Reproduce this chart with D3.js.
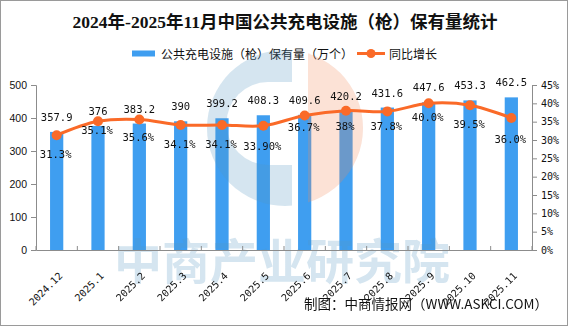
<!DOCTYPE html>
<html>
<head>
<meta charset="utf-8">
<script src="https://cdn.jsdelivr.net/npm/d3@7"></script>
<style>
  html, body { margin: 0; padding: 0; background: #fff; }
  svg { display: block; }
</style>
</head>
<body>
<svg id="chart" width="569" height="327"></svg>
<script>
// ---- data ----
const categories = ["2024.12","2025.1","2025.2","2025.3","2025.4","2025.5","2025.6","2025.7","2025.8","2025.9","2025.10","2025.11"];
const stockValues = [357.9, 376, 383.2, 390, 399.2, 408.3, 409.6, 420.2, 431.6, 447.6, 453.3, 462.5];
const stockLabels = ["357.9","376","383.2","390","399.2","408.3","409.6","420.2","431.6","447.6","453.3","462.5"];
const growthValues = [31.3, 35.1, 35.6, 34.1, 34.1, 33.9, 36.7, 38.0, 37.8, 40.0, 39.5, 36.0];
const growthLabels = ["31.3%","35.1%","35.6%","34.1%","34.1%","33.90%","36.7%","38%","37.8%","40.0%","39.5%","36.0%"];
const leftTicks = [0, 100, 200, 300, 400, 500];
const rightTicks = [0, 5, 10, 15, 20, 25, 30, 35, 40, 45];

// ---- layout (not data) ----
const pctLabelGap = [19, 9, 18, 19, 19, 20, 12, 15, 15, 14, 19, 21];
const W = 569, H = 327;
const plot = { left: 36, right: 532, top: 85, bottom: 250 };
const barColor = "#3f9ef0";
const lineColor = "#fa6a28";
const axisColor = "#8c8c8c";
const monoFont = "'DejaVu Sans Mono', 'Liberation Mono', monospace";
const cjkFont = "'Noto Sans CJK SC', 'Noto Sans', sans-serif";

const svg = d3.select("#chart");

// border
svg.append("rect").attr("x", 0.5).attr("y", 0.5).attr("width", W - 2).attr("height", H - 2)
  .attr("fill", "#fff").attr("stroke", "#9a9a9a").attr("stroke-width", 1);

// scales
const x = d3.scaleBand().domain(categories).range([plot.left, plot.right])
  .paddingInner(0.68).paddingOuter(0.34);
const y = d3.scaleLinear().domain([0, 500]).range([plot.bottom, plot.top]);
const y2 = d3.scaleLinear().domain([0, 45]).range([plot.bottom, plot.top]);
const cx = d => x(d) + x.bandwidth() / 2;

// title
svg.append("text").attr("x", 285).attr("y", 22).attr("text-anchor", "middle")
  .attr("dominant-baseline", "central")
  .style("font-family", "'Liberation Serif', 'Noto Sans CJK SC', serif")
  .style("font-weight", "bold").style("font-size", "17.5px").attr("fill", "#111")
  .text("2024年-2025年11月中国公共充电设施（枪）保有量统计");

// legend
const lg = svg.append("g");
lg.append("rect").attr("x", 132).attr("y", 50.5).attr("width", 23).attr("height", 6).attr("fill", barColor);
lg.append("text").attr("x", 161).attr("y", 53.5).attr("dominant-baseline", "central")
  .style("font-family", cjkFont).style("font-size", "12px").attr("fill", "#111")
  .text("公共充电设施（枪）保有量（万个）");
lg.append("line").attr("x1", 357).attr("x2", 385).attr("y1", 53.5).attr("y2", 53.5)
  .attr("stroke", lineColor).attr("stroke-width", 3);
lg.append("circle").attr("cx", 371).attr("cy", 53.5).attr("r", 4.5).attr("fill", lineColor);
lg.append("text").attr("x", 389).attr("y", 53.5).attr("dominant-baseline", "central")
  .style("font-family", cjkFont).style("font-size", "12px").attr("fill", "#111")
  .text("同比增长");

// bars
svg.append("g").selectAll("rect").data(categories).join("rect")
  .attr("x", d => x(d)).attr("width", x.bandwidth())
  .attr("y", (d, i) => y(stockValues[i]))
  .attr("height", (d, i) => y(0) - y(stockValues[i]))
  .attr("fill", barColor);

// watermark (over bars, under line)
const wm = svg.append("g").attr("opacity", 0.25);
const lcx = 285, lcy = 128, lr = 78;
const defs = svg.append("defs");
defs.append("clipPath").attr("id", "logoClip").append("circle")
  .attr("cx", lcx).attr("cy", lcy).attr("r", lr);
const mask = defs.append("mask").attr("id", "cMask");
mask.append("rect").attr("x", 0).attr("y", 0).attr("width", W).attr("height", H).attr("fill", "#fff");
mask.append("circle").attr("cx", 268).attr("cy", 123.5).attr("r", 41.5).attr("fill", "#000");
mask.append("rect").attr("x", 268).attr("y", 82).attr("width", 40).attr("height", 83).attr("fill", "#000");
const logo = wm.append("g").attr("clip-path", "url(#logoClip)");
logo.append("rect").attr("x", lcx - lr).attr("y", lcy - lr).attr("width", 292 - (lcx - lr)).attr("height", 2 * lr)
  .attr("fill", "#5697c1").attr("mask", "url(#cMask)");
logo.append("rect").attr("x", 308).attr("y", lcy - lr).attr("width", lr).attr("height", 2 * lr)
  .attr("fill", "#f0885a");
wm.append("text").attr("x", 282).attr("y", 258).attr("text-anchor", "middle")
  .attr("dominant-baseline", "central")
  .style("font-family", cjkFont).style("font-weight", "bold").style("font-size", "48px")
  .attr("fill", "#5697c1").text("中商产业研究院");

// left axis
const yAxis = d3.axisLeft(y).tickValues(leftTicks).tickSize(5).tickPadding(4);
const gy = svg.append("g").attr("transform", `translate(${plot.left},0)`).call(yAxis);
gy.selectAll("path,line").attr("stroke", axisColor);
gy.selectAll("text").style("font-family", "'Liberation Sans', Arial, sans-serif")
  .style("font-size", "10.5px").attr("fill", "#111");

// right axis
const y2Axis = d3.axisRight(y2).tickValues(rightTicks).tickSize(5).tickPadding(4)
  .tickFormat(d => d + "%");
const gy2 = svg.append("g").attr("transform", `translate(${plot.right},0)`).call(y2Axis);
gy2.selectAll("path,line").attr("stroke", axisColor);
gy2.selectAll("text").style("font-family", monoFont).style("font-size", "10px").attr("fill", "#111");

// bottom axis
const xAxis = d3.axisBottom(x).tickSize(0).tickPadding(0);
const gx = svg.append("g").attr("transform", `translate(0,${plot.bottom})`).call(xAxis);
gx.select("path.domain").attr("stroke", axisColor);
gx.selectAll(".tick text")
  .attr("text-anchor", "end")
  .attr("transform", "translate(4,24) rotate(-45)")
  .attr("dy", "0.35em").attr("y", 0)
  .style("font-family", monoFont).style("font-size", "10px").attr("fill", "#111");
// boundary ticks between categories (inside)
const bounds = d3.range(categories.length + 1).map(i => plot.left + i * x.step());
svg.append("g").selectAll("line").data(bounds).join("line")
  .attr("x1", d => d).attr("x2", d => d)
  .attr("y1", plot.bottom).attr("y2", plot.bottom - 4)
  .attr("stroke", axisColor);

// line
const line = d3.line()
  .x((d, i) => cx(categories[i]))
  .y(d => y2(d))
  .curve(d3.curveCatmullRom.alpha(0.5));
svg.append("path").datum(growthValues).attr("d", line)
  .attr("fill", "none").attr("stroke", lineColor).attr("stroke-width", 3);
svg.append("g").selectAll("circle").data(growthValues).join("circle")
  .attr("cx", (d, i) => cx(categories[i])).attr("cy", d => y2(d)).attr("r", 5)
  .attr("fill", lineColor);

// bar labels
svg.append("g").selectAll("text").data(stockLabels).join("text")
  .attr("x", (d, i) => cx(categories[i]))
  .attr("y", (d, i) => y(stockValues[i]) - 15)
  .attr("text-anchor", "middle").attr("dominant-baseline", "central")
  .style("font-family", monoFont).style("font-size", "10.5px").attr("fill", "#111")
  .text(d => d);

// growth labels
svg.append("g").selectAll("text").data(growthLabels).join("text")
  .attr("x", (d, i) => cx(categories[i]) - 1)
  .attr("y", (d, i) => y2(growthValues[i]) + pctLabelGap[i])
  .attr("text-anchor", "middle").attr("dominant-baseline", "central")
  .style("font-family", monoFont).style("font-size", "10.5px").attr("fill", "#111")
  .text(d => d);

// footer
svg.append("text").attr("x", 548).attr("y", 303).attr("text-anchor", "end")
  .attr("dominant-baseline", "central")
  .style("font-family", cjkFont).style("font-size", "13.5px").attr("fill", "#111")
  .text("制图：中商情报网（WWW.ASKCI.COM）");
</script>
</body>
</html>
